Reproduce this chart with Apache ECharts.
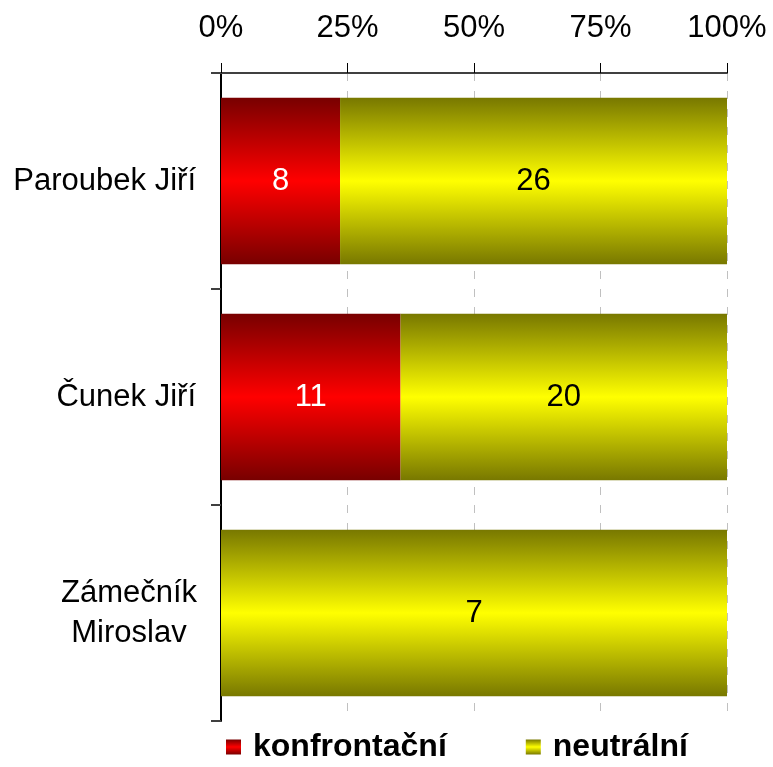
<!DOCTYPE html>
<html lang="cs">
<head>
    <meta charset="UTF-8">
    <title>Chart</title>
    <style>
        * { padding: 0; margin: 0; box-sizing: border-box; }
        html, body { width: 100%; height: 100%; overflow: hidden; background: #fff; }
        #box { width: 773px; height: 767px; }
    </style>
</head>
<body>
    <div id="box"></div>
</body>
<script src="https://cdn.jsdelivr.net/npm/echarts@6/dist/echarts.min.js"></script>
<script>
    var categories = ['Paroubek Jiří', 'Čunek Jiří', 'Zámečník\nMiroslav'];
    var konfrontacni = [8, 11, 0];
    var neutralni = [26, 20, 7];
    var xTicks = ['0%', '25%', '50%', '75%', '100%'];

    var toPercent = function (vals) {
        var res = [];
        for (var i = 0; i < vals.length; i++) {
            var total = konfrontacni[i] + neutralni[i];
            res.push({ value: vals[i] / total * 100, raw: vals[i] });
        }
        return res;
    };

    var grad = function (dark, light) {
        return new echarts.graphic.LinearGradient(0, 0, 0, 1, [
            { offset: 0, color: dark },
            { offset: 0.5, color: light },
            { offset: 1, color: dark }
        ]);
    };

    // two-line name: lines centred inside a right-aligned block
    var catData = categories.map(function (c) {
        if (c.indexOf('\n') < 0) return c;
        return { value: c, textStyle: { align: 'center', padding: [0, 0, 0, -134] } };
    });

    var box = echarts.init(document.getElementById('box'));
    var option = {
        animation: false,
        textStyle: { fontFamily: 'Liberation Sans, Arial, sans-serif' },
        grid: { left: 221, right: 46, top: 73, bottom: 46 },
        legend: {
            bottom: -1,
            left: 221,
            icon: 'rect',
            itemGap: 79,
            itemWidth: 15,
            itemHeight: 15,
            textStyle: { fontSize: 32, fontWeight: 'bold', color: '#000', padding: [0, 0, 0, 7] },
            data: ['konfrontační', 'neutrální']
        },
        xAxis: {
            type: 'value',
            position: 'top',
            min: 0,
            max: 100,
            interval: 25,
            axisLine: { show: true, lineStyle: { color: '#404040', width: 2 } },
            axisTick: { show: true, length: 10, lineStyle: { color: '#000' } },
            axisLabel: {
                fontSize: 31, color: '#000', margin: 29,
                formatter: function (v) { return xTicks[v / 25]; }
            },
            splitLine: { show: true, lineStyle: { color: '#c0c0c0', type: [8, 10] } }
        },
        yAxis: {
            type: 'category',
            inverse: true,
            data: catData,
            axisLine: { show: true, lineStyle: { color: '#000', width: 2 } },
            axisTick: { show: true, length: 10, lineStyle: { color: '#404040', width: 2 } },
            axisLabel: { fontSize: 31, color: '#000', margin: 25, lineHeight: 40 }
        },
        series: [
            {
                name: 'konfrontační',
                type: 'bar',
                stack: 'a',
                barCategoryGap: '23%',
                itemStyle: { color: grad('#780000', '#ff0000') },
                label: {
                    show: true,
                    color: '#fff',
                    fontSize: 31,
                    formatter: function (p) { return p.data.raw ? p.data.raw : ''; }
                },
                data: toPercent(konfrontacni)
            },
            {
                name: 'neutrální',
                type: 'bar',
                stack: 'a',
                itemStyle: { color: grad('#787800', '#ffff00') },
                label: {
                    show: true,
                    color: '#000',
                    fontSize: 31,
                    formatter: function (p) { return p.data.raw ? p.data.raw : ''; }
                },
                data: toPercent(neutralni)
            }
        ]
    };
    box.setOption(option);
</script>
</html>
